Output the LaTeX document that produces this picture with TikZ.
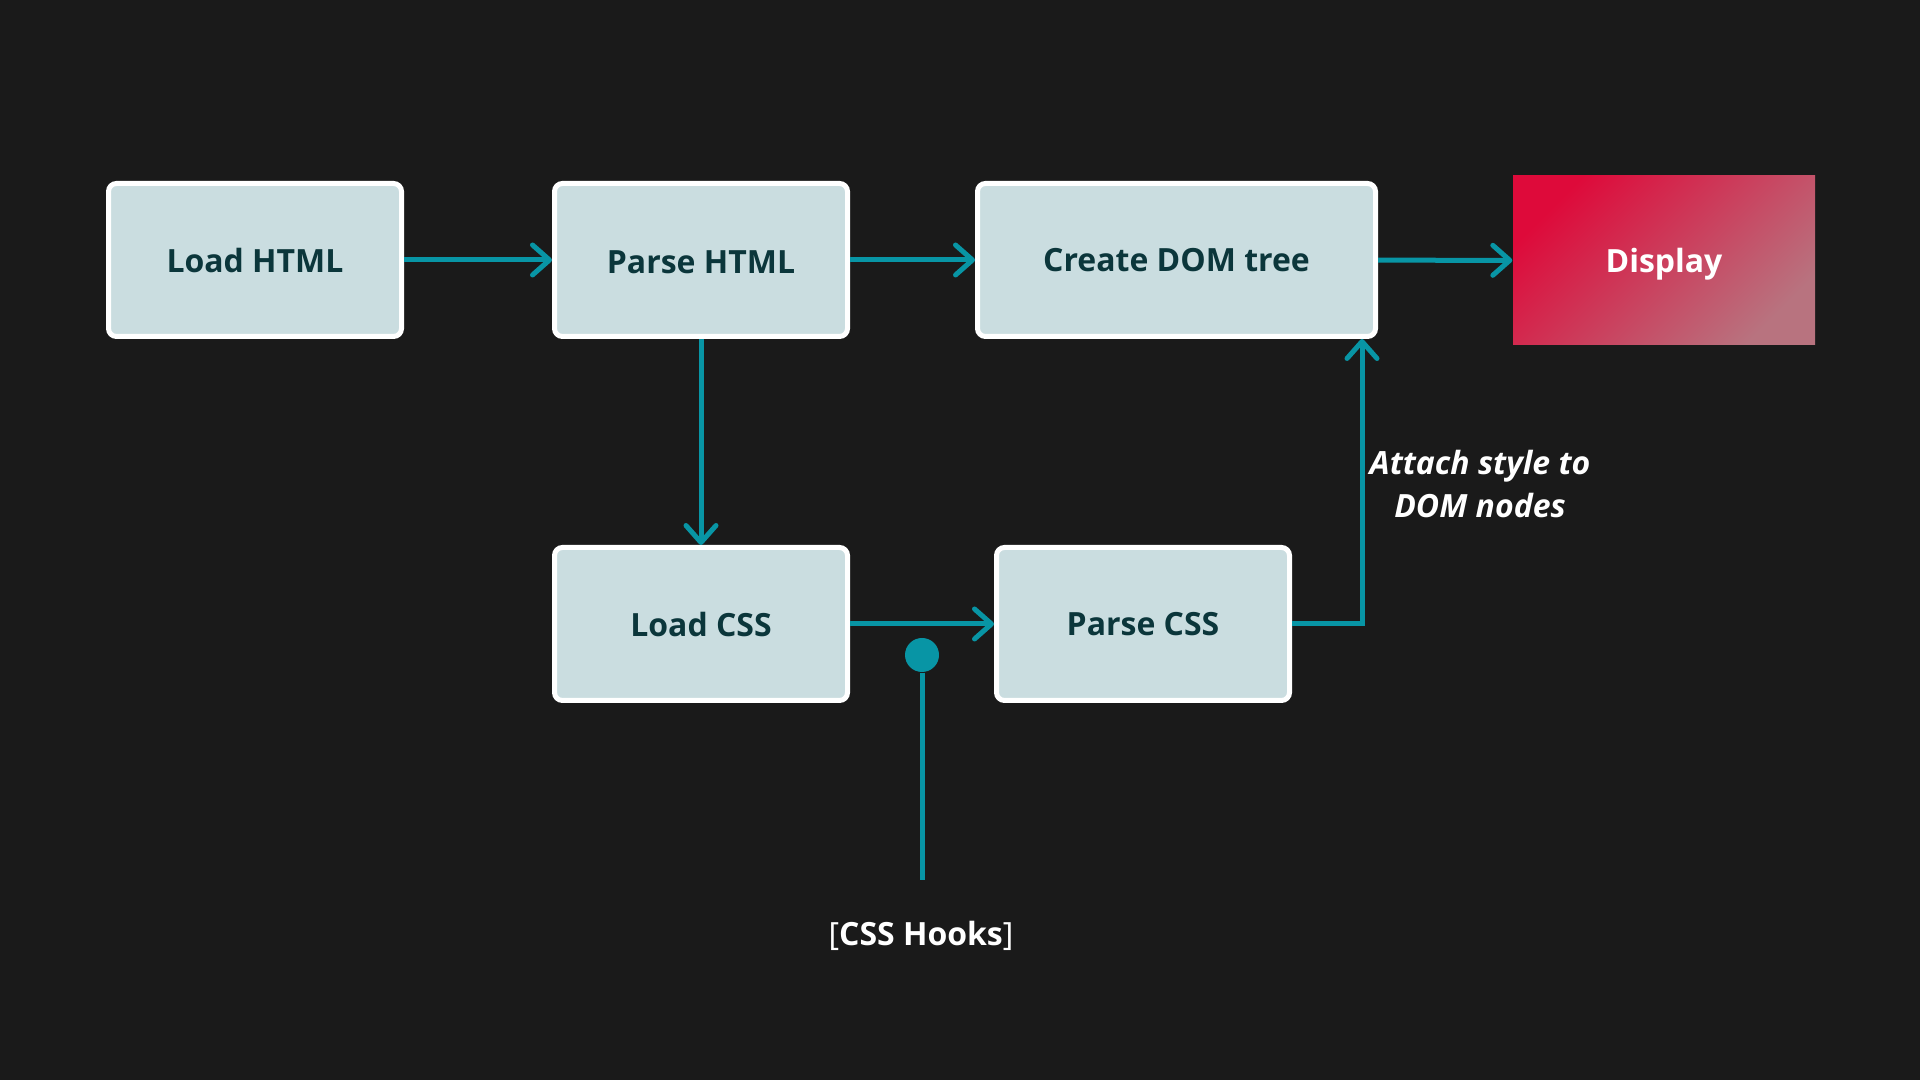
\documentclass[tikz,border=0pt]{standalone}
\usepackage{fontspec}
\setmainfont{Open Sans}
\usetikzlibrary{arrows.meta}

\definecolor{bgdark}{HTML}{1A1A1A}
\definecolor{boxfill}{HTML}{CADDE0}
\definecolor{boxtext}{HTML}{0B363B}
\definecolor{flowteal}{HTML}{0895A5}
\definecolor{displaytop}{HTML}{DE0A3A}
\definecolor{displaybottom}{HTML}{B8737F}

\begin{document}
\begin{tikzpicture}[stage/.style={draw=white,line width=0.05cm,rounded corners=0.08cm,
      fill=boxfill,text=boxtext,font=\fontsize{9.1}{11}\selectfont\bfseries,
      minimum width=2.93cm,minimum height=1.53cm,inner sep=0pt,text depth=0pt},
    flow/.style={draw=flowteal,line width=0.05cm,
      -{Straight Barb[length=0.17cm,width=0.3cm,round]}},
    note/.style={text=white,font=\fontsize{9.1}{12.5}\selectfont\bfseries},]

    \fill[bgdark] (0,0) rectangle (19.2,10.8);
    \useasboundingbox (0,0) rectangle (19.2,10.8);

    % top row
    \node[stage] (loadhtml) at (2.55,8.2) {Load HTML};

    \node[stage] (parsehtml) at (7.01,8.2) {\raisebox{-0.05cm}{Parse HTML}};

    \node[stage,minimum width=3.98cm] (createdom) at (11.765,8.2) {Create DOM tree};

    \node[note,minimum width=3.02cm,minimum height=1.69cm,inner sep=0pt,text depth=0pt,
      top color=displaytop,bottom color=displaybottom,shading angle=45]
      (display) at (16.64,8.195) {Display};

    % bottom row
    \node[stage] (loadcss) at (7.01,4.56) {Load CSS};

    \node[stage] (parsecss) at (11.43,4.56) {Parse CSS};

    \draw[flow] (loadhtml) -- (parsehtml);
    \draw[flow] (parsehtml) -- (createdom);
    \draw[flow] (createdom) -- (display);
    \draw[flow] (parsehtml) -- (loadcss);
    \draw[flow] (loadcss) -- (parsecss);
    \draw[flow] (parsecss.east) -| ([xshift=-0.16cm]createdom.south east);

    \node[note,align=center,font=\fontsize{9.1}{12.5}\selectfont\bfseries\itshape]
      (attach) at (14.8,5.96)
      {Attach style to \\
        DOM nodes};

    % hook
    \node[circle,fill=flowteal,minimum size=0.34cm,inner sep=0pt] (hookdot) at (9.22,4.25) {};
    \coordinate (hookend) at (9.22,2.0);
    \draw[flowteal,line width=0.05cm] (hookdot) -- (hookend);

    \node[note,anchor=base] (hooks) at (9.21,1.34)
      {{\mdseries[}CSS Hooks{\mdseries]}};

  \end{tikzpicture}
\end{document}
